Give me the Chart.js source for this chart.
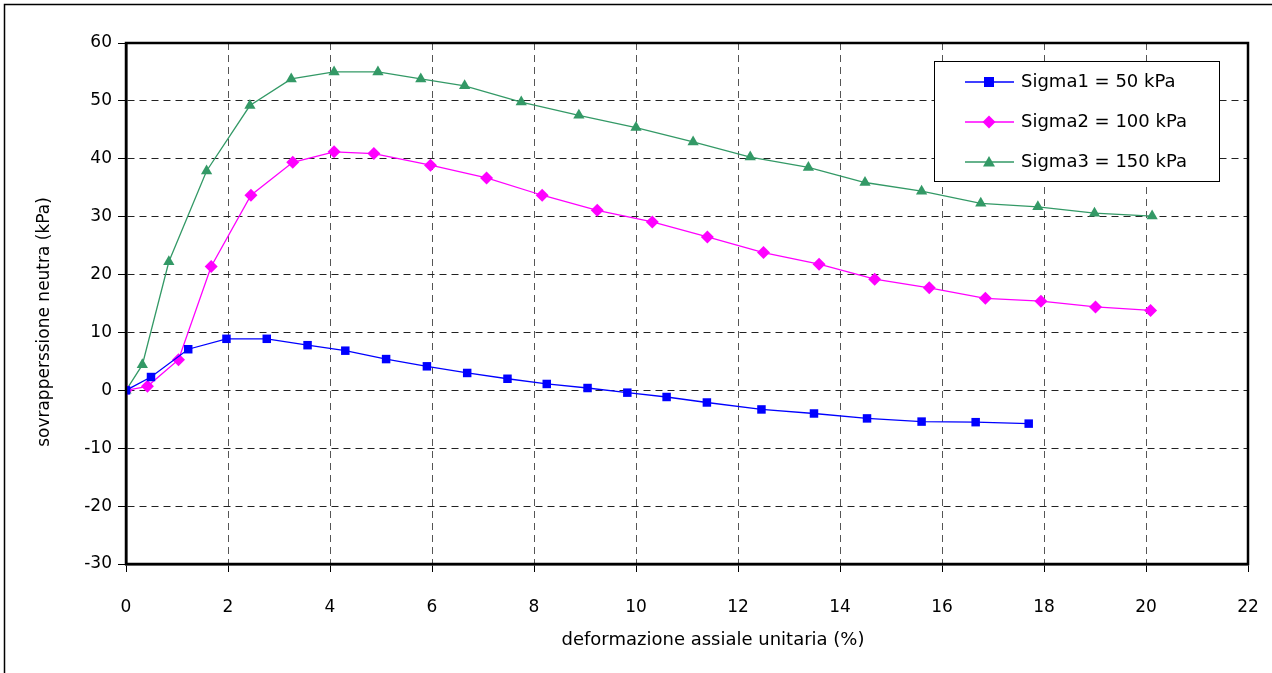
<!DOCTYPE html>
<html>
<head>
<meta charset="utf-8">
<script src="https://cdn.jsdelivr.net/npm/chart.js@4.4.1/dist/chart.umd.min.js"></script>
<style>
  html, body { margin: 0; padding: 0; background: #fff; }
  #wrap { position: relative; width: 1272px; height: 673px; }
</style>
</head>
<body>
<div id="wrap"><canvas id="grafico" width="1272" height="673"></canvas></div>
<script>
// dati: deformazione (%) / sovrappressione (kPa)
const sigma1X = [0, 0.49, 1.22, 1.97, 2.76, 3.56, 4.30, 5.10, 5.90, 6.69, 7.48, 8.25, 9.05, 9.83, 10.60, 11.39, 12.46, 13.49, 14.53, 15.60, 16.66, 17.70];
const sigma1Y = [0, 2.3, 7.1, 8.9, 8.9, 7.8, 6.85, 5.4, 4.15, 3.0, 2.0, 1.1, 0.4, -0.4, -1.15, -2.1, -3.3, -4.0, -4.85, -5.4, -5.5, -5.75];

const sigma2X = [0, 0.42, 1.03, 1.67, 2.45, 3.27, 4.08, 4.86, 5.97, 7.07, 8.16, 9.24, 10.32, 11.40, 12.50, 13.59, 14.68, 15.75, 16.85, 17.94, 19.01, 20.09];
const sigma2Y = [0, 0.7, 5.3, 21.4, 33.7, 39.4, 41.2, 40.9, 38.9, 36.7, 33.7, 31.1, 29.1, 26.5, 23.8, 21.8, 19.2, 17.7, 15.9, 15.4, 14.4, 13.8];

const sigma3X = [0, 0.32, 0.84, 1.58, 2.43, 3.24, 4.08, 4.94, 5.78, 6.64, 7.75, 8.88, 10.00, 11.12, 12.24, 13.38, 14.49, 15.60, 16.76, 17.88, 18.99, 20.12];
const sigma3Y = [0, 4.4, 22.2, 37.9, 49.2, 53.8, 55.0, 55.0, 53.8, 52.6, 49.8, 47.5, 45.4, 42.9, 40.3, 38.5, 35.9, 34.4, 32.3, 31.7, 30.6, 30.1];

const etichette = ['Sigma1 = 50 kPa', 'Sigma2 = 100 kPa', 'Sigma3 = 150 kPa'];
const xTicks = [0, 2, 4, 6, 8, 10, 12, 14, 16, 18, 20, 22];
const yTicks = [-30, -20, -10, 0, 10, 20, 30, 40, 50, 60];
const titoloX = 'deformazione assiale unitaria (%)';
const titoloY = 'sovrapperssione neutra (kPa)';

const FONT = "'DejaVu Sans', sans-serif";

function punti(xs, ys) {
    return xs.map((x, i) => ({ x: x, y: ys[i] }));
}

// simbolo per la legenda
function disegnaSimbolo(ctx, stile, x, y, r, colore) {
    ctx.save();
    ctx.fillStyle = colore;
    ctx.beginPath();
    if (stile === 'rect') {
        ctx.rect(x - r, y - r, 2 * r, 2 * r);
    } else if (stile === 'rectRot') {
        ctx.moveTo(x, y - r * 1.3);
        ctx.lineTo(x + r * 1.3, y);
        ctx.lineTo(x, y + r * 1.3);
        ctx.lineTo(x - r * 1.3, y);
        ctx.closePath();
    } else {
        ctx.moveTo(x, y - r * 1.2);
        ctx.lineTo(x + r * 1.2, y + r * 0.9);
        ctx.lineTo(x - r * 1.2, y + r * 0.9);
        ctx.closePath();
    }
    ctx.fill();
    ctx.restore();
}

const cornice = {
    id: 'cornice',
    beforeDraw(chart) {
        const ctx = chart.ctx;
        ctx.save();
        ctx.fillStyle = '#fff';
        ctx.fillRect(0, 0, chart.width, chart.height);
        ctx.strokeStyle = '#000';
        ctx.lineWidth = 1.5;
        ctx.beginPath();
        ctx.moveTo(4.5, chart.height);
        ctx.lineTo(4.5, 4.5);
        ctx.lineTo(chart.width, 4.5);
        ctx.stroke();
        ctx.restore();
    },
    afterDraw(chart) {
        const ctx = chart.ctx;
        const a = chart.chartArea;
        ctx.save();
        ctx.strokeStyle = '#000';
        ctx.lineWidth = 2.5;
        ctx.strokeRect(a.left, a.top, a.right - a.left, a.bottom - a.top);

        // titoli degli assi (come nell'originale, non centrati sull'area)
        ctx.fillStyle = '#000';
        ctx.font = '18px ' + FONT;
        ctx.textAlign = 'center';
        ctx.textBaseline = 'middle';
        ctx.fillText(titoloX, 713, 640);
        ctx.save();
        ctx.translate(45, 322);
        ctx.rotate(-Math.PI / 2);
        ctx.font = '17px ' + FONT;
        ctx.fillText(titoloY, 0, 0);
        ctx.restore();

        // legenda dentro l'area del grafico
        const bx = 934, by = 61, bw = 285, bh = 120;
        ctx.fillStyle = '#fff';
        ctx.fillRect(bx, by, bw, bh);
        ctx.strokeStyle = '#000';
        ctx.lineWidth = 1;
        ctx.strokeRect(bx + 0.5, by + 0.5, bw, bh);
        ctx.font = '18px ' + FONT;
        ctx.textAlign = 'left';
        ctx.textBaseline = 'middle';
        chart.data.datasets.forEach((ds, i) => {
            const y = by + 21 + i * 40;
            ctx.strokeStyle = ds.borderColor;
            ctx.lineWidth = 1.5;
            ctx.beginPath();
            ctx.moveTo(bx + 31, y);
            ctx.lineTo(bx + 80, y);
            ctx.stroke();
            disegnaSimbolo(ctx, ds.pointStyle, bx + 55, y, 5, ds.pointBackgroundColor);
            ctx.fillStyle = '#000';
            ctx.fillText(ds.label, bx + 87, y);
        });
        ctx.restore();
    }
};

const ctx = document.getElementById('grafico').getContext('2d');
new Chart(ctx, {
    type: 'scatter',
    data: {
        datasets: [
            {
                label: etichette[0],
                data: punti(sigma1X, sigma1Y),
                showLine: true,
                borderColor: '#0000ff',
                borderWidth: 1.3,
                pointStyle: 'rect',
                pointRadius: 6,
                pointHoverRadius: 6,
                pointBackgroundColor: '#0000ff',
                pointBorderColor: '#0000ff',
                pointBorderWidth: 0
            },
            {
                label: etichette[1],
                data: punti(sigma2X, sigma2Y),
                showLine: true,
                borderColor: '#ff00ff',
                borderWidth: 1.3,
                pointStyle: 'rectRot',
                pointRadius: 6.5,
                pointHoverRadius: 6.5,
                pointBackgroundColor: '#ff00ff',
                pointBorderColor: '#ff00ff',
                pointBorderWidth: 0
            },
            {
                label: etichette[2],
                data: punti(sigma3X, sigma3Y),
                showLine: true,
                borderColor: '#339966',
                borderWidth: 1.3,
                pointStyle: 'triangle',
                pointRadius: 6.5,
                pointHoverRadius: 6.5,
                pointBackgroundColor: '#339966',
                pointBorderColor: '#339966',
                pointBorderWidth: 0
            }
        ]
    },
    options: {
        responsive: false,
        animation: false,
        layout: { padding: { top: 43, right: 24, left: 0, bottom: 0 } },
        plugins: {
            legend: { display: false },
            tooltip: { enabled: false }
        },
        scales: {
            x: {
                type: 'linear',
                min: 0,
                max: 22,
                afterBuildTicks(scale) { scale.ticks = xTicks.map(v => ({ value: v })); },
                afterFit(scale) {
                    scale.height = 109;
                    // il padding delle etichette non deve restringere l'area
                    scale.paddingLeft = 0;
                    scale.paddingRight = 12;
                },
                ticks: { color: '#000', font: { family: FONT, size: 17 }, padding: 25 },
                grid: { color: '#555', lineWidth: 1, tickLength: 8, tickColor: '#000' },
                border: { display: true, color: '#000', width: 2.5, dash: [7, 5] }
            },
            y: {
                type: 'linear',
                min: -30,
                max: 60,
                afterBuildTicks(scale) { scale.ticks = yTicks.map(v => ({ value: v })); },
                afterFit(scale) { scale.width = 126; },
                ticks: { color: '#000', font: { family: FONT, size: 17 }, padding: 6 },
                grid: { color: '#222', lineWidth: 1, tickLength: 8, tickColor: '#000' },
                border: { display: true, color: '#000', width: 2.5, dash: [7, 5] }
            }
        }
    },
    plugins: [cornice]
});
</script>
</body>
</html>
